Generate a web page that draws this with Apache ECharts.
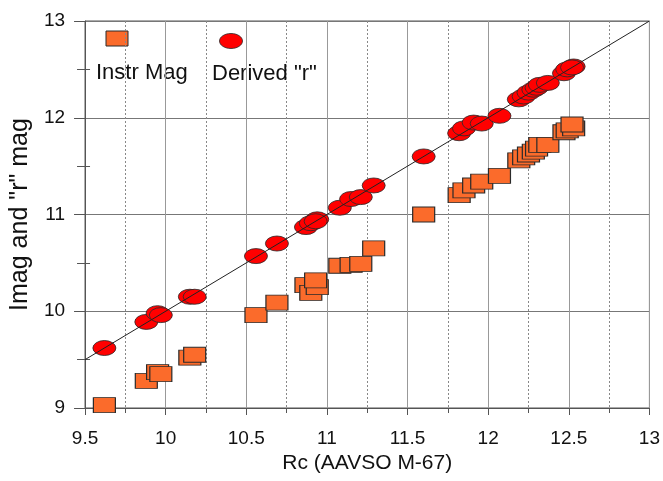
<!DOCTYPE html>
<html>
<head>
<meta charset="utf-8">
<script src="https://cdn.jsdelivr.net/npm/echarts@6/dist/echarts.min.js"></script>
<style>
  html, body { margin: 0; padding: 0; background: #fff; }
  #chart { width: 663px; height: 481px; }
</style>
</head>
<body>
<div id="chart"></div>
<script>
// Rc (AAVSO M-67) of each comparison star
const rcMag = [9.62, 9.88, 9.95, 9.97, 10.15, 10.18, 10.56, 10.69, 10.87, 10.90, 10.94, 10.93,
  11.08, 11.15, 11.21, 11.29, 11.60, 11.82, 11.85, 11.91, 11.96, 12.07, 12.19, 12.22,
  12.25, 12.28, 12.30, 12.32, 12.37, 12.47, 12.49, 12.53, 12.52];
// Instrumental magnitude of each star
const instrMag = [9.03, 9.28, 9.37, 9.35, 9.52, 9.55, 9.96, 10.09, 10.27, 10.19, 10.25, 10.32,
  10.47, 10.48, 10.49, 10.65, 11.00, 11.20, 11.25, 11.30, 11.34, 11.40, 11.56, 11.59,
  11.62, 11.65, 11.68, 11.72, 11.72, 11.85, 11.87, 11.89, 11.93];
// Derived "r" magnitude of each star
const derivedR = [9.62, 9.89, 9.98, 9.96, 10.15, 10.15, 10.57, 10.70, 10.87, 10.91, 10.95, 10.93,
  11.07, 11.16, 11.18, 11.30, 11.60, 11.84, 11.89, 11.95, 11.94, 12.02, 12.19, 12.22,
  12.26, 12.29, 12.31, 12.34, 12.36, 12.46, 12.50, 12.53, 12.52];
// One-to-one reference line
const unityLine = [[9.5, 9.5], [13, 13]];

const seriesNames = ['Instr Mag', 'Derived "r"'];
const axisTitles = { x: 'Rc (AAVSO M-67)', y: 'Imag and "r" mag' };

const font = 'Liberation Sans, Arial, sans-serif';
const orange = '#fb6b2b';
const red = '#ff0000';

const chart = echarts.init(document.getElementById('chart'), null, { renderer: 'canvas' });

const yBase = {
  type: 'value', min: 9, max: 13, interval: 1, position: 'left'
};

chart.setOption({
  animation: false,
  backgroundColor: '#fff',
  grid: {
    left: 78, right: 7, top: 21, bottom: 73,
    show: true, borderColor: '#555', borderWidth: 1, backgroundColor: 'transparent'
  },
  xAxis: {
    type: 'value', min: 9.5, max: 13, interval: 0.5,
    name: axisTitles.x, nameLocation: 'middle', nameGap: 43,
    nameTextStyle: { fontFamily: font, fontSize: 21, color: '#111' },
    axisLine: { show: true, lineStyle: { color: '#555', width: 1 } },
    axisTick: { show: true, length: 7, lineStyle: { color: '#555' } },
    minorTick: { show: true, splitNumber: 2, length: 5, lineStyle: { color: '#555' } },
    axisLabel: { fontFamily: font, fontSize: 19, color: '#111', margin: 21,
      formatter: v => String(v) },
    splitLine: { show: true, lineStyle: { color: '#999', width: 1 } },
    minorSplitLine: { show: true, lineStyle: { color: '#888', width: 1, type: [2, 2] } }
  },
  yAxis: [
    Object.assign({}, yBase, {
      name: axisTitles.y, nameLocation: 'middle', nameGap: 42,
      nameTextStyle: { fontFamily: font, fontSize: 25, color: '#111' },
      axisLine: { show: true, lineStyle: { color: '#555', width: 1 } },
      axisTick: { show: true, length: 11, lineStyle: { color: '#555' } },
      minorTick: { show: true, splitNumber: 2, length: 8, lineStyle: { color: '#555' } },
      axisLabel: { fontFamily: font, fontSize: 19, color: '#111', margin: 20 },
      splitLine: { show: true, lineStyle: { color: '#777', width: 1 } },
      minorSplitLine: { show: false }
    }),
    // inward half of the half-unit ticks
    Object.assign({}, yBase, {
      axisLine: { show: false },
      axisTick: { show: true, inside: true, length: 0, lineStyle: { color: 'transparent' } },
      minorTick: { show: true, splitNumber: 2, length: 5, lineStyle: { color: '#555' } },
      axisLabel: { show: false },
      splitLine: { show: false }
    })
  ],
  series: [
    {
      name: seriesNames[0], type: 'scatter', z: 2,
      symbol: 'rect', symbolSize: [22, 15],
      itemStyle: { color: orange, borderColor: '#2a2a2a', borderWidth: 1, opacity: 1 },
      data: rcMag.map((x, i) => [x, instrMag[i]])
    },
    {
      name: seriesNames[1], type: 'scatter', z: 3,
      symbol: 'circle', symbolSize: [23, 15],
      itemStyle: { color: red, borderColor: '#2a2a2a', borderWidth: 0.8, opacity: 1 },
      data: rcMag.map((x, i) => [x, derivedR[i]])
    },
    {
      type: 'line', z: 4, symbol: 'none', silent: true,
      lineStyle: { color: '#222', width: 1 },
      data: unityLine
    }
  ],
  graphic: [
    { type: 'rect', shape: { x: 106, y: 31, width: 22, height: 15 },
      style: { fill: orange, stroke: '#2a2a2a', lineWidth: 1 } },
    { type: 'ellipse', shape: { cx: 231, cy: 41, rx: 11.5, ry: 7.5 },
      style: { fill: red, stroke: '#2a2a2a', lineWidth: 0.8 } },
    { type: 'text', x: 96, y: 73,
      style: { text: seriesNames[0], font: '22px ' + font, fill: '#111',
        textAlign: 'left', textVerticalAlign: 'middle' } },
    { type: 'text', x: 212, y: 74,
      style: { text: seriesNames[1], font: '22px ' + font, fill: '#111',
        textAlign: 'left', textVerticalAlign: 'middle' } }
  ]
});
</script>
</body>
</html>
